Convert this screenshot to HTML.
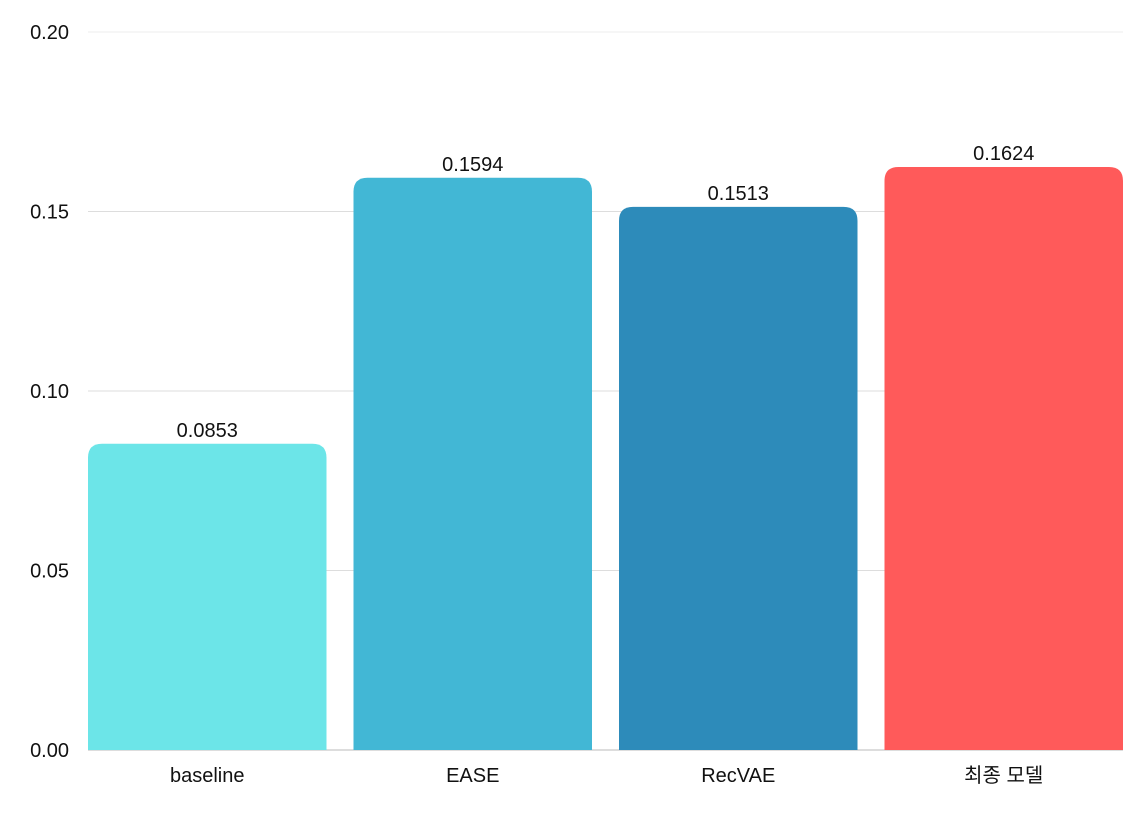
<!DOCTYPE html>
<html><head><meta charset="utf-8"><style>
body{margin:0;background:#fff;}
svg text{font-family:"Liberation Sans","Noto Sans CJK KR",sans-serif;fill:#111;}
</style></head><body>
<svg id="chart" width="1147" height="810" xmlns="http://www.w3.org/2000/svg"></svg>
<script>
const categories=["baseline","EASE","RecVAE","최종 모델"];
const values=[0.0853,0.1594,0.1513,0.1624];
const colors=["#6ce5e8","#42b7d5","#2d8bba","#ff5a5a"];
const yTicks=[0,0.05,0.10,0.15,0.20];
const yTickLabels=["0.00","0.05","0.10","0.15","0.20"];
const svg=document.getElementById('chart');
const NS="http://www.w3.org/2000/svg";
const L=88,R=1123,T=32,B=750,gap=27;
const y=v=>B-(v/0.2)*(B-T);
const bw=(R-L-gap*(categories.length-1))/categories.length;
const x=i=>L+i*(bw+gap);
function mk(t,a){const e=document.createElementNS(NS,t);for(const k in a)e.setAttribute(k,a[k]);svg.appendChild(e);return e;}
yTicks.forEach((t,i)=>{
  if(t>0){const g=mk('line',{x1:L,x2:R,y1:y(t),y2:y(t),stroke:i==4?'#eeeeee':'#dddddd','stroke-width':1});
  
  }
  const tx=mk('text',{x:69,y:y(t)+7,'text-anchor':'end','font-size':20});
  tx.textContent=yTickLabels[i];
  
  
});
const ax=mk('line',{x1:L,x2:R,y1:B,y2:B,stroke:'#bbbbbb','stroke-width':1});


categories.forEach((c,i)=>{
  const x0=x(i),x1=x0+bw,yt=y(values[i]),r=14;
  const p=mk('path',{d:`M${x0},${B}V${yt+r}Q${x0},${yt} ${x0+r},${yt}H${x1-r}Q${x1},${yt} ${x1},${yt+r}V${B}Z`,fill:colors[i]});
  
  
  const v=mk('text',{x:x0+bw/2,y:yt-7,'text-anchor':'middle','font-size':20});
  v.textContent=values[i].toFixed(4);
  
  
  const l=mk('text',{x:x0+bw/2,y:782,'text-anchor':'middle','font-size':20});
  l.textContent=c;
  
  
});
</script>
</body></html>
